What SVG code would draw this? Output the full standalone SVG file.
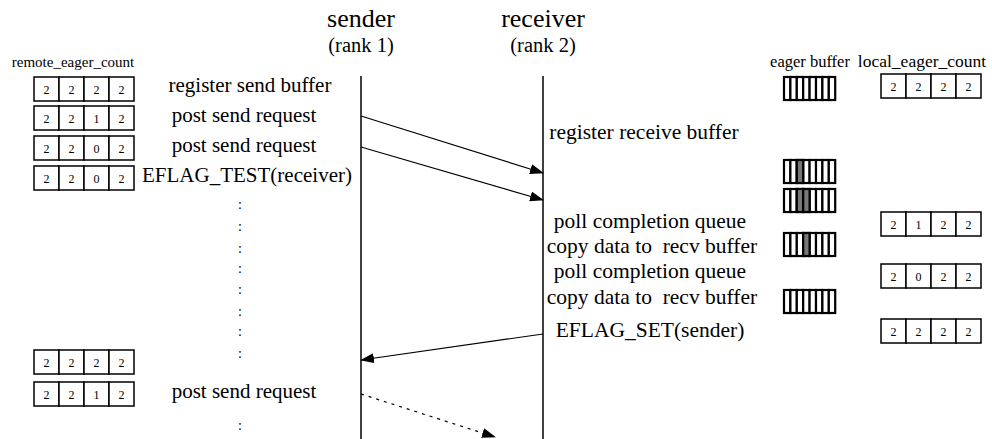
<svg xmlns="http://www.w3.org/2000/svg" width="992" height="439" viewBox="0 0 992 439">
<style>
text{font-family:"Liberation Serif","Times New Roman",serif;fill:#000;white-space:pre}
.t{font-size:26px;text-anchor:middle}
.r{font-size:20.5px;text-anchor:middle}
.l{font-size:21px;text-anchor:middle}
.rl{font-size:21.5px;text-anchor:middle}
.h{font-size:15px;text-anchor:middle}
.h2{font-size:16.5px;text-anchor:middle}
.h3{font-size:17.5px;text-anchor:middle}
.d{font-size:14px;text-anchor:middle}
.c{font-size:12px;text-anchor:middle}
.cell{fill:#fff;stroke:#000;stroke-width:1.5}
.slot{fill:#fff;stroke:#000;stroke-width:2.2}
.g{fill:#777}
.life{stroke:#000;stroke-width:1.5;fill:none}
.msg{stroke:#000;stroke-width:1.2;fill:none;marker-end:url(#ah)}
.dash{stroke-dasharray:3 5}
</style>
<defs>
<marker id="ah" markerWidth="14" markerHeight="10" refX="13" refY="5" orient="auto" markerUnits="userSpaceOnUse">
<path d="M0,0 L14,5 L0,10 Z" fill="#000"/>
</marker>
<g id="cells4">
<rect class="cell" x="0" y="0" width="25" height="24"/>
<rect class="cell" x="25" y="0" width="25" height="24"/>
<rect class="cell" x="50" y="0" width="25" height="24"/>
<rect class="cell" x="75" y="0" width="25" height="24"/>
</g>
<g id="buf">
<rect class="slot" x="0" y="0" width="6.4" height="23"/>
<rect class="slot" x="6.4" y="0" width="6.4" height="23"/>
<rect class="slot" x="12.8" y="0" width="6.4" height="23"/>
<rect class="slot" x="19.2" y="0" width="6.4" height="23"/>
<rect class="slot" x="25.6" y="0" width="6.4" height="23"/>
<rect class="slot" x="32" y="0" width="6.4" height="23"/>
<rect class="slot" x="38.4" y="0" width="6.4" height="23"/>
<rect class="slot" x="44.8" y="0" width="6.4" height="23"/>
</g>
</defs>
<rect width="992" height="439" fill="#fff"/>

<g id="sender">
<text class="t" x="361" y="27">sender</text>
<text class="r" x="361" y="52">(rank 1)</text>
<line class="life" x1="361" y1="76" x2="361" y2="439"/>
</g>
<g id="receiver">
<text class="t" x="543" y="27">receiver</text>
<text class="r" x="543" y="52">(rank 2)</text>
<line class="life" x1="543" y1="76" x2="543" y2="439"/>
</g>

<g id="connectors">
<line class="msg" x1="361" y1="116" x2="543" y2="173"/>
<line class="msg" x1="361" y1="147" x2="543" y2="200"/>
<line class="msg" x1="543" y1="334" x2="361" y2="360"/>
<line class="msg dash" x1="361" y1="394" x2="495" y2="437"/>
</g>

<g id="remote_eager_count">
<text class="h" x="73" y="67">remote_eager_count</text>
<g transform="translate(34,77)"><use href="#cells4"/><text class="c" x="12.5" y="17">2</text><text class="c" x="37.5" y="17">2</text><text class="c" x="62.5" y="17">2</text><text class="c" x="87.5" y="17">2</text></g>
<g transform="translate(34,106)"><use href="#cells4"/><text class="c" x="12.5" y="17">2</text><text class="c" x="37.5" y="17">2</text><text class="c" x="62.5" y="17">1</text><text class="c" x="87.5" y="17">2</text></g>
<g transform="translate(34,136)"><use href="#cells4"/><text class="c" x="12.5" y="17">2</text><text class="c" x="37.5" y="17">2</text><text class="c" x="62.5" y="17">0</text><text class="c" x="87.5" y="17">2</text></g>
<g transform="translate(34,166)"><use href="#cells4"/><text class="c" x="12.5" y="17">2</text><text class="c" x="37.5" y="17">2</text><text class="c" x="62.5" y="17">0</text><text class="c" x="87.5" y="17">2</text></g>
<g transform="translate(34,350)"><use href="#cells4"/><text class="c" x="12.5" y="17">2</text><text class="c" x="37.5" y="17">2</text><text class="c" x="62.5" y="17">2</text><text class="c" x="87.5" y="17">2</text></g>
<g transform="translate(34,382)"><use href="#cells4"/><text class="c" x="12.5" y="17">2</text><text class="c" x="37.5" y="17">2</text><text class="c" x="62.5" y="17">1</text><text class="c" x="87.5" y="17">2</text></g>
</g>

<g id="sender_steps">
<text class="l" x="250" y="92">register send buffer</text>
<text class="l" x="244" y="122">post send request</text>
<text class="l" x="244" y="152">post send request</text>
<text class="l" x="247" y="182">EFLAG_TEST(receiver)</text>
<text class="d" x="240" y="209">:</text>
<text class="d" x="240" y="231">:</text>
<text class="d" x="240" y="253">:</text>
<text class="d" x="240" y="273">:</text>
<text class="d" x="240" y="294">:</text>
<text class="d" x="240" y="316">:</text>
<text class="d" x="240" y="336">:</text>
<text class="d" x="240" y="358">:</text>
<text class="l" x="244" y="398">post send request</text>
<text class="d" x="240" y="430">:</text>
</g>

<g id="receiver_steps">
<text class="rl" x="644" y="139">register receive buffer</text>
<text class="rl" x="650" y="228">poll completion queue</text>
<text class="rl" x="652" y="253">copy data to  recv buffer</text>
<text class="rl" x="650" y="278">poll completion queue</text>
<text class="rl" x="652" y="304">copy data to  recv buffer</text>
<text class="rl" x="650" y="337">EFLAG_SET(sender)</text>
</g>

<g id="eager_buffer">
<text class="h2" x="810" y="67">eager buffer</text>
<g transform="translate(784,77)"><use href="#buf"/></g>
<g transform="translate(784,160)"><use href="#buf"/><rect class="slot g" x="12.8" y="0" width="6.4" height="23"/></g>
<g transform="translate(784,189)"><use href="#buf"/><rect class="slot g" x="12.8" y="0" width="6.4" height="23"/><rect class="slot g" x="19.2" y="0" width="6.4" height="23"/></g>
<g transform="translate(784,233)"><use href="#buf"/><rect class="slot g" x="19.2" y="0" width="6.4" height="23"/></g>
<g transform="translate(784,290)"><use href="#buf"/></g>
</g>

<g id="local_eager_count">
<text class="h3" x="922" y="67">local_eager_count</text>
<g transform="translate(881,74)"><use href="#cells4"/><text class="c" x="12.5" y="17">2</text><text class="c" x="37.5" y="17">2</text><text class="c" x="62.5" y="17">2</text><text class="c" x="87.5" y="17">2</text></g>
<g transform="translate(881,212)"><use href="#cells4"/><text class="c" x="12.5" y="17">2</text><text class="c" x="37.5" y="17">1</text><text class="c" x="62.5" y="17">2</text><text class="c" x="87.5" y="17">2</text></g>
<g transform="translate(881,264)"><use href="#cells4"/><text class="c" x="12.5" y="17">2</text><text class="c" x="37.5" y="17">0</text><text class="c" x="62.5" y="17">2</text><text class="c" x="87.5" y="17">2</text></g>
<g transform="translate(881,319)"><use href="#cells4"/><text class="c" x="12.5" y="17">2</text><text class="c" x="37.5" y="17">2</text><text class="c" x="62.5" y="17">2</text><text class="c" x="87.5" y="17">2</text></g>
</g>
</svg>
